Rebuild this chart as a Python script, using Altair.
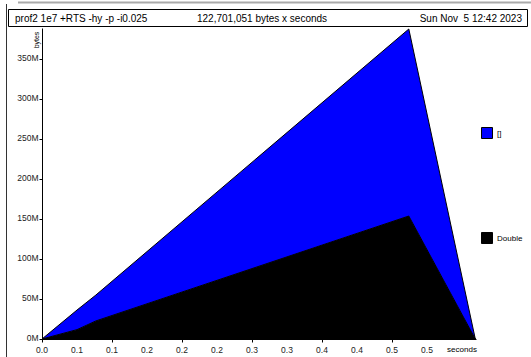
import altair as alt
import pandas as pd

# ---- data ----
times = [0.0, 0.05, 0.077, 0.524, 0.619]            # seconds
double_mb = [0.0, 11.7, 22.6, 153.75, 0.0]          # Double (M bytes)
list_mb = [0.0, 24.5, 32.4, 233.75, 0.0]            # [] (M bytes)
series = ["[]", "Double"]
colors = ["#0000ff", "#000000"]

x_tick_values = [0.0, 0.05, 0.10, 0.15, 0.20, 0.25, 0.30, 0.35, 0.40, 0.45, 0.50, 0.55]
x_tick_labels = ["0.0", "0.1", "0.1", "0.2", "0.2", "0.2", "0.3", "0.3", "0.4", "0.4", "0.5", "0.5"]
y_tick_values = [0, 50, 100, 150, 200, 250, 300, 350]

header_left = "prof2 1e7 +RTS -hy -p -i0.025"
header_mid = "122,701,051 bytes x seconds"
header_right = "Sun Nov \u00a05 12:42 2023"

# ---- layout (pixels) ----
W, H = 434, 311
PL, PT = 42, 28
FONT = "Liberation Sans"

df = pd.DataFrame({
    "t": times,
    "d_lo": [0.0] * len(times),
    "d_hi": double_mb,
    "l_lo": double_mb,
    "l_hi": [a + b for a, b in zip(double_mb, list_mb)],
})
ticks_df = pd.DataFrame({"t": x_tick_values, "lab": x_tick_labels})

xs = alt.Scale(domain=[0, 0.62], nice=False, zero=False)
ys = alt.Scale(domain=[0, 388.75], nice=False)

xax = alt.Axis(values=x_tick_values, labels=False,
               title=None, grid=False, tickSize=3, tickColor="black", domainColor="black",
               domainWidth=1, tickWidth=1)
yax = alt.Axis(values=y_tick_values, labelExpr="datum.value + 'M'", title=None, grid=False,
               tickSize=3, tickColor="black", domainColor="black", labelFont=FONT,
               labelFontSize=8.5, labelColor="#222", labelPadding=1, labelBaseline="alphabetic",
               labelOverlap=False, labelFlush=False,
               labelOffset=1, domainWidth=1, tickWidth=1)

base = alt.Chart(df)
area_double = base.mark_area(color=colors[1], stroke="black", strokeWidth=0.8).encode(
    x=alt.X("t:Q", scale=xs, axis=xax),
    y=alt.Y("d_hi:Q", scale=ys, axis=yax),
    y2="d_lo:Q",
)
area_list = base.mark_area(color=colors[0], stroke="black", strokeWidth=1).encode(
    x=alt.X("t:Q", scale=xs),
    y=alt.Y("l_hi:Q", scale=ys),
    y2="l_lo:Q",
)
x_labels = alt.Chart(ticks_df).mark_text(font=FONT, fontSize=8.5, color="#222",
                                         baseline="middle", align="center").encode(
    x=alt.X("t:Q", scale=xs),
    y=alt.value(349.5 - PT),
    text="lab:N",
)

one = pd.DataFrame({"a": [0]})


def text(s, x, y, size=8, align="left", angle=0, baseline="middle"):
    return alt.Chart(one).mark_text(text=s, font=FONT, fontSize=size, align=align,
                                    baseline=baseline, angle=angle, color="black").encode(
        x=alt.value(x - PL), y=alt.value(y - PT))


def rect(x1, y1, x2, y2, fill, stroke="black", sw=1):
    return alt.Chart(one).mark_rect(fill=fill, stroke=stroke, strokeWidth=sw).encode(
        x=alt.value(x1 - PL), x2=alt.value(x2 - PL), y=alt.value(y1 - PT), y2=alt.value(y2 - PT))


def rule(x1, y1, x2, y2, color="black", sw=1):
    return alt.Chart(one).mark_rule(color=color, strokeWidth=sw).encode(
        x=alt.value(x1 - PL), x2=alt.value(x2 - PL), y=alt.value(y1 - PT), y2=alt.value(y2 - PT))


layers = [
    area_double,
    area_list,
    x_labels,
    # page edges
    rule(6.5, 4, 6.5, 357, color="#333", sw=1),
    rule(18, 2.5, 531, 2.5, color="#aaa", sw=2),
    # header box
    rect(8.5, 9.5, 527.5, 26.5, "white", sw=1),
    text(header_left, 15, 18.5, size=10),
    text(header_mid, 197, 18.5, size=10),
    text(header_right, 522, 18.5, size=10, align="right"),
    # axis titles
    text("bytes", 37, 40, size=7, align="center", angle=270),
    text("seconds", 462, 349.5, size=8, align="center"),
    # legend
    rect(481.5, 127.5, 492.5, 138.5, colors[0]),
    text(series[0], 497, 133.5, size=8),
    rect(481.5, 232.5, 492.5, 243.5, colors[1]),
    text(series[1], 497, 238.5, size=8),
]

chart = alt.layer(*layers).properties(
    width=W, height=H,
    padding={"left": PL, "top": PT, "right": 531 - PL - W, "bottom": 357 - PT - H},
    autosize=alt.AutoSizeParams(type="none"),
    background="white",
).configure_view(strokeWidth=0)

chart.save("out.html", embed_options={"renderer": "svg", "actions": False})
